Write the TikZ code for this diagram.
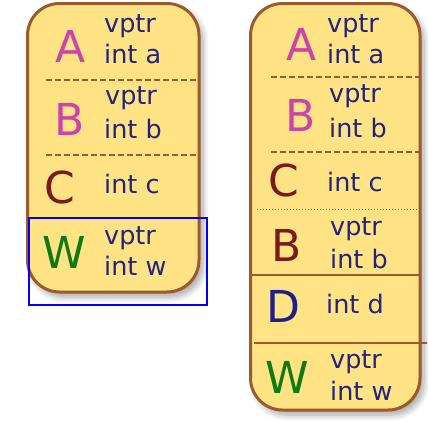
\documentclass[tikz,border=0pt]{standalone}
\usepackage{fontspec}
\setmainfont{DejaVu Sans}
\usetikzlibrary{shadows.blur}
\definecolor{boxfill}{HTML}{FFE385}
\definecolor{boxline}{HTML}{9C5A2C}
\definecolor{txtblue}{HTML}{23237A}
\definecolor{clsA}{HTML}{CC44AA}
\definecolor{clsC}{HTML}{7A1A1A}
\definecolor{clsD}{HTML}{1E1E8C}
\definecolor{clsW}{HTML}{107A10}

\begin{document}
\begin{tikzpicture}[x=1pt, y=-1pt,
  objbox/.style={draw=boxline, line width=3pt, fill=boxfill, rounded corners=32pt,
    blur shadow={shadow xshift=4pt, shadow yshift=-5pt, shadow blur steps=10, shadow blur radius=6pt, shadow opacity=35}},
  member/.style={anchor=base west, inner sep=0pt, text=txtblue, font=\fontsize{25.5}{31}\selectfont},
  cls/.style={anchor=base, inner sep=0pt, font=\fontsize{44}{50}\selectfont},
  sep/.style={draw=boxline, line width=1.5pt},
  dashsep/.style={sep, dash pattern=on 6pt off 3pt},
  dotsep/.style={draw=boxline, line width=1pt, dash pattern=on 1pt off 2pt}]
\useasboundingbox (0,0) rectangle (428,421);

\path[objbox] (27.5,3.5) rectangle (199,292);
\path[objbox] (250.5,3.5) rectangle (420,410);

\draw[dashsep] (46,80) -- (200,80);
\draw[dashsep] (46,155) -- (200,155);

\draw[dashsep] (271,77) -- (421,77);
\draw[dashsep] (271,152) -- (421,152);
\draw[dotsep] (257,209) -- (419,209);
\draw[sep] (251,275) -- (421,275);
\draw[sep] (254,343) -- (427,343);

\node[cls, text=clsA] (lA) at (71,62) {A};
\node[member] (lAvptr) at (104,32) {vptr};
\node[member] (lAint) at (104,63) {int a};
\node[cls, text=clsA] (lB) at (70,135) {B};
\node[member] (lBvptr) at (105,104) {vptr};
\node[member] (lBint) at (104,138) {int b};
\node[cls, text=clsC] (lC) at (60,203) {C};
\node[member] (lCint) at (104,193) {int c};
\node[cls, text=clsW] (lW) at (64,268) {W};
\node[member] (lWvptr) at (104,244) {vptr};
\node[member] (lWint) at (104,275) {int w};

\node[cls, text=clsA] (rA) at (302,60) {A};
\node[member] (rAvptr) at (327,32) {vptr};
\node[member] (rAint) at (327,63) {int a};
\node[cls, text=clsA] (rB) at (301,131) {B};
\node[member] (rBvptr) at (329,102) {vptr};
\node[member] (rBint) at (329,137) {int b};
\node[cls, text=clsC] (rC) at (284,196) {C};
\node[member] (rCint) at (327,191) {int c};
\node[cls, text=clsC] (rB2) at (287,261) {B};
\node[member] (rB2vptr) at (330,235) {vptr};
\node[member] (rB2int) at (330,268) {int b};
\node[cls, text=clsD] (rD) at (283,322) {D};
\node[member] (rDint) at (326,313) {int d};
\node[cls, text=clsW] (rW) at (287,393) {W};
\node[member] (rWvptr) at (330,368) {vptr};
\node[member] (rWint) at (330,400) {int w};

\draw[blue, line width=2.5pt] (29,218) rectangle (207,305);
\end{tikzpicture}
\end{document}
